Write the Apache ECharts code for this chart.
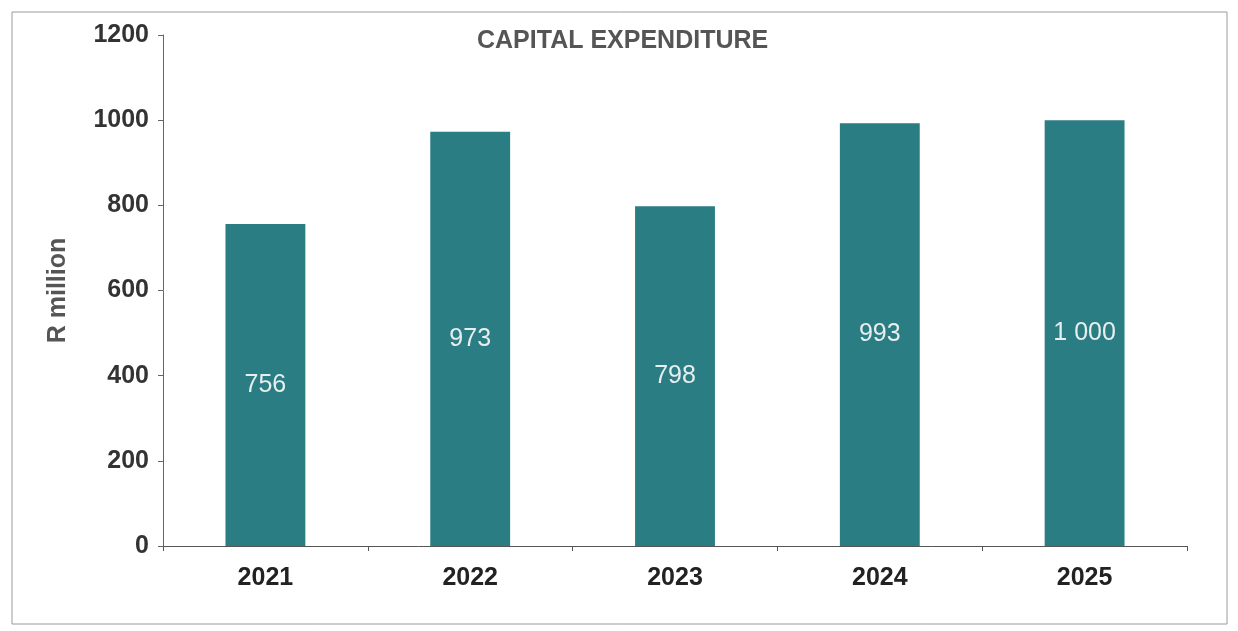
<!DOCTYPE html>
<html>
<head>
<meta charset="utf-8">
<script src="https://cdn.jsdelivr.net/npm/echarts@6/dist/echarts.min.js"></script>
<style>
  html, body { margin: 0; padding: 0; background: #fff; }
  #chart { width: 1238px; height: 631px; }
</style>
</head>
<body>
<div id="chart"></div>
<script>
// Capital expenditure per financial year, R million
const years = ['2021', '2022', '2023', '2024', '2025'];
const capex = [756, 973, 798, 993, 1000];
const yTicks = [0, 200, 400, 600, 800, 1000, 1200];

const chart = echarts.init(document.getElementById('chart'), null, { renderer: 'canvas' });

const FONT = 'Liberation Sans, Arial, sans-serif';
const fmtThousands = v => String(v).replace(/\B(?=(\d{3})+(?!\d))/g, ' ');

chart.setOption({
  backgroundColor: '#ffffff',
  animation: false,
  title: {
    text: 'CAPITAL EXPENDITURE',
    left: 472,
    top: 24,
    textStyle: { fontFamily: FONT, fontSize: 25, fontWeight: 'bold', color: '#555555' }
  },
  graphic: [{
    type: 'rect',
    shape: { x: 12, y: 12, width: 1215, height: 612 },
    style: { fill: 'none', stroke: '#9a9a9a', lineWidth: 1 },
    silent: true
  }],
  grid: { left: 163, right: 51, top: 35, bottom: 85 },
  xAxis: {
    type: 'category',
    data: years,
    axisLine: { lineStyle: { color: '#555555', width: 1 } },
    axisTick: { show: true, length: 5, lineStyle: { color: '#555555' } },
    axisLabel: {
      margin: 20,
      fontFamily: FONT,
      fontSize: 25, fontWeight: 'bold', color: '#222222'
    }
  },
  yAxis: {
    type: 'value',
    min: yTicks[0],
    max: yTicks[yTicks.length - 1],
    interval: yTicks[1] - yTicks[0],
    name: 'R million',
    nameLocation: 'middle',
    nameGap: 92,
    nameRotate: 90,
    nameTextStyle: { fontFamily: FONT, fontSize: 25, fontWeight: 'bold', color: '#555555' },
    axisLine: { show: true, lineStyle: { color: '#666666', width: 1 } },
    axisTick: { show: true, length: 5, lineStyle: { color: '#666666' } },
    splitLine: { show: false },
    axisLabel: {
      margin: 14,
      formatter: v => String(v),
      fontFamily: FONT,
      fontSize: 25, fontWeight: 'bold', color: '#333333'
    }
  },
  series: [{
    type: 'bar',
    data: capex,
    barWidth: '39%',
    itemStyle: { color: '#2b7d84' },
    label: {
      show: true,
      position: 'inside',
      formatter: p => fmtThousands(p.value),
      fontFamily: FONT,
      fontSize: 25,
      color: '#e6eeee'
    }
  }]
});
</script>
</body>
</html>
